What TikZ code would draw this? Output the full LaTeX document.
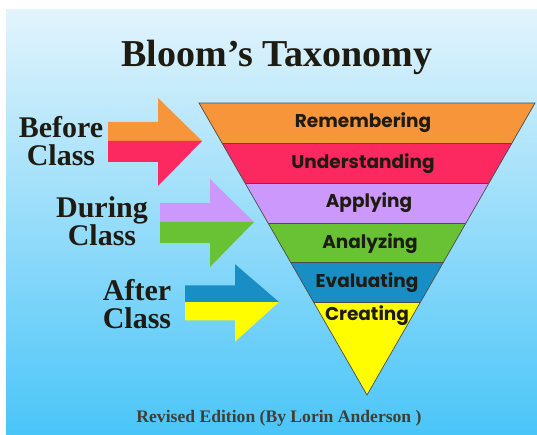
\documentclass[tikz,border=0pt]{standalone}
\usepackage{fontspec}
\setmainfont{Liberation Serif}
\newfontfamily\bandfont{Poppins}
\usetikzlibrary{positioning}

\definecolor{bgtop}{RGB}{226,244,252}
\definecolor{bgbottom}{RGB}{74,197,248}
\definecolor{inkdark}{RGB}{30,28,18}
\definecolor{orangeband}{RGB}{247,149,59}
\definecolor{pinkband}{RGB}{252,40,96}
\definecolor{lilacband}{RGB}{204,152,252}
\definecolor{greenband}{RGB}{104,194,52}
\definecolor{blueband}{RGB}{24,142,196}
\definecolor{yellowband}{RGB}{255,253,0}

\tikzset{
  sidelabel/.style={font=\bfseries\fontsize{30}{28}\selectfont, text=inkdark, align=center, inner sep=0pt},
  bandlabel/.style={font=\bandfont\bfseries\fontsize{18.5}{18.5}\selectfont, text=inkdark, anchor=base, inner sep=0pt},
  bandline/.style={draw=black!70, line width=0.7pt},
  pics/twoarrow/.style 2 args={code={
    \fill[#1] (0,0) -- (0,-19) -- (50,-19) -- (50,-43) -- (94,0) -- cycle;
    \fill[#2] (0,0) -- (0,21) -- (50,21) -- (50,45) -- (94,0) -- cycle;
  }},
}

\begin{document}
\begin{tikzpicture}[x=1pt, y=-1pt]
\useasboundingbox (0,0) rectangle (537,435);
\fill[white] (0,0) rectangle (537,435);
% Background
\shade[top color=bgtop, bottom color=bgbottom] (6,10) rectangle (537,435);

% Title
\node[font=\bfseries\fontsize{38}{38}\selectfont, text=inkdark, anchor=base] (title) at (277,67) {Bloom’s Taxonomy};

% Arrows
\pic at (108,141) {twoarrow={orangeband}{pinkband}};
\pic at (160,222) {twoarrow={lilacband}{greenband}};
\pic[yscale=0.88] at (185,302) {twoarrow={blueband}{yellowband}};

% Side labels
\node[sidelabel] (before) at (61,141) {Before\\Class};
\node[sidelabel] (during) at (102,221) {During\\Class};
\node[sidelabel] (after) at (137,304) {After\\Class};

% Pyramid bands
\coordinate (tl) at (199,103);
\coordinate (tr) at (535,103);
\coordinate (apex) at (367,395);
\begin{scope}
  \clip (tl) -- (tr) -- (apex) -- cycle;
  \fill[orangeband] (190,103) rectangle (540,143);
  \fill[pinkband] (190,143) rectangle (540,183);
  \fill[lilacband] (190,183) rectangle (540,223);
  \fill[greenband] (190,223) rectangle (540,262);
  \fill[blueband] (190,262) rectangle (540,302);
  \fill[yellowband] (190,302) rectangle (540,400);
  \foreach \y in {143,183,223,262,302}
    \draw[bandline] (190,\y) -- (540,\y);
\end{scope}
\draw[bandline, line join=miter] (tl) -- (tr) -- (apex) -- cycle;

% Band labels
\node[bandlabel] (remember) at (363,128) {Remembering};
\node[bandlabel] (understand) at (363,169) {Understanding};
\node[bandlabel] (apply) at (369,208) {Applying};
\node[bandlabel] (analyze) at (370,248) {Analyzing};
\node[bandlabel] (evaluate) at (367,287) {Evaluating};
\node[bandlabel] (create) at (367,320) {Creating};

% Footer
\node[font=\bfseries\fontsize{17.6}{17.6}\selectfont, text=inkdark!85, anchor=base] (credit) at (279,422) {Revised Edition (By Lorin Anderson )};
\end{tikzpicture}
\end{document}
